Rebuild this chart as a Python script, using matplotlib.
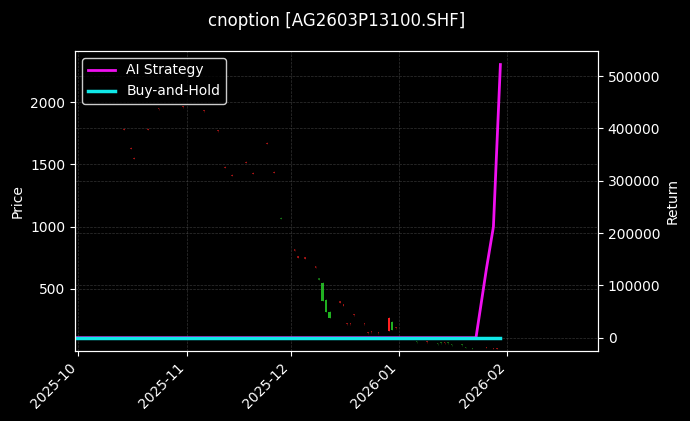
import matplotlib
matplotlib.use("Agg")
import matplotlib.pyplot as plt
import matplotlib.dates as mdates
import pandas as pd

candle_dates = ["2025-10-14", "2025-10-16", "2025-10-17", "2025-10-21", "2025-10-24",
                "2025-10-31", "2025-11-06", "2025-11-10", "2025-11-12", "2025-11-14",
                "2025-11-18", "2025-11-20", "2025-11-24", "2025-11-26", "2025-11-28",
                "2025-12-02", "2025-12-03", "2025-12-05", "2025-12-08", "2025-12-09",
                "2025-12-10", "2025-12-11", "2025-12-12", "2025-12-15", "2025-12-16",
                "2025-12-17", "2025-12-18", "2025-12-19", "2025-12-22", "2025-12-23",
                "2025-12-24", "2025-12-26", "2025-12-29", "2025-12-30", "2025-12-31",
                "2026-01-06", "2026-01-09", "2026-01-12", "2026-01-13", "2026-01-14",
                "2026-01-15", "2026-01-16", "2026-01-19", "2026-01-20", "2026-01-22",
                "2026-01-26", "2026-01-28", "2026-01-29"]
opens = [1775, 1622, 1542, 1775, 1942, 1958, 1926, 1766, 1470, 1406,
         1510, 1422, 1662, 1430, 1072, 806, 750, 742, 670, 585,
         548, 412, 318, 390, 366, 215, 215, 287, 215, 143,
         151, 143, 164, 236, 182, 82, 72, 66, 72, 64,
         72, 56, 56, 32, 24, 24, 16, 16]
closes = [1785, 1632, 1552, 1785, 1952, 1968, 1936, 1776, 1480, 1416,
          1520, 1432, 1672, 1440, 1062, 816, 760, 752, 680, 572,
          404, 316, 268, 400, 376, 225, 225, 297, 225, 153,
          161, 153, 268, 172, 192, 72, 80, 56, 64, 72,
          62, 48, 48, 24, 16, 32, 24, 24]
highs = [1788, 1635, 1555, 1788, 1955, 1971, 1939, 1779, 1483, 1419,
         1523, 1435, 1675, 1443, 1075, 819, 763, 755, 683, 588,
         552, 416, 320, 403, 379, 228, 228, 300, 228, 156,
         164, 156, 272, 238, 195, 85, 83, 69, 75, 75,
         75, 59, 59, 35, 27, 35, 27, 27]
lows = [1772, 1619, 1539, 1772, 1939, 1955, 1923, 1763, 1467, 1403,
        1507, 1419, 1659, 1427, 1059, 803, 747, 739, 667, 569,
        400, 312, 264, 387, 363, 212, 212, 284, 212, 140,
        148, 140, 160, 168, 179, 69, 69, 53, 61, 61,
        59, 45, 45, 21, 13, 21, 13, 13]

ai_dates = ["2025-09-30", "2026-01-23", "2026-01-26", "2026-01-27", "2026-01-28",
            "2026-01-29", "2026-01-30"]
ai_returns = [0, 0, 132000, 172000, 212000, 368000, 522000]

bh_dates = ["2025-09-30", "2026-01-30"]
bh_returns = [0, 0]

title = "cnoption [AG2603P13100.SHF]"

fig = plt.figure(figsize=(6.9, 4.21), dpi=100, facecolor="black")
ax = fig.add_axes([0.1087, 0.166, 0.758, 0.713])
ax.set_facecolor("black")

cd = pd.to_datetime(candle_dates)
for d, o, h, l, c in zip(cd, opens, highs, lows, closes):
    col = "#ff2020" if c >= o else "#20b020"
    small = abs(c - o) < 15
    x = mdates.date2num(d)
    ax.vlines(x, l, h, color=col, linewidth=0.5, alpha=0.4 if small else 0.7)
    ax.bar(x, abs(c - o), width=0.45 if small else 0.65, bottom=min(o, c), color=col,
           linewidth=0, alpha=0.55 if small else 1.0)

ax.set_ylim(0, 2410)
ax.set_xlim(mdates.date2num(pd.Timestamp("2025-09-30")), mdates.date2num(pd.Timestamp("2026-02-27")))
ax.xaxis.set_major_locator(mdates.MonthLocator())
ax.xaxis.set_major_formatter(mdates.DateFormatter("%Y-%m"))
ax.set_yticks([500, 1000, 1500, 2000])
ax.set_ylabel("Price", color="white")
ax.grid(True, color="gray", linestyle="--", linewidth=0.5, alpha=0.4)

ax2 = ax.twinx()
ax2.plot(pd.to_datetime(ai_dates), ai_returns, color="#f010f0", linewidth=2, label="AI Strategy")
ax2.plot(pd.to_datetime(bh_dates), bh_returns, color="#10e8e8", linewidth=2.5, label="Buy-and-Hold")
ax2.set_ylim(-25600, 548000)
ax2.set_ylabel("Return", color="white")
ax2.grid(True, color="gray", linestyle="--", linewidth=0.5, alpha=0.4)

for a in (ax, ax2):
    a.tick_params(colors="white", labelsize=10)
    for s in a.spines.values():
        s.set_color("white")

plt.setp(ax.get_xticklabels(), rotation=45, ha="right")

leg = ax2.legend(loc="upper left", facecolor="black", edgecolor="white", fontsize=10)
for t in leg.get_texts():
    t.set_color("white")

ax.set_title(title, color="white", fontsize=12, pad=18)

fig.savefig("out.png", dpi=100, facecolor="black")
